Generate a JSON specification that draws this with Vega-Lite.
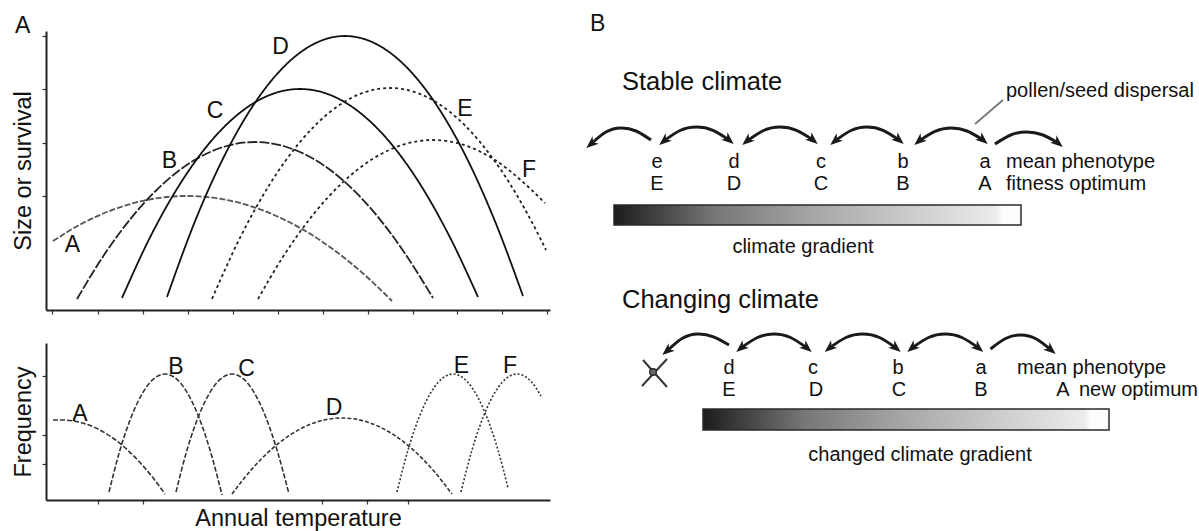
{
  "$schema": "https://vega.github.io/schema/vega-lite/v6.json",
  "background": "white",
  "padding": {"left": 11, "top": 13, "right": 0, "bottom": 0},
  "config": {
    "view": {"stroke": null},
    "font": "Liberation Sans",
    "axis": {"grid": false, "labels": false, "domainColor": "#222", "domainWidth": 2, "tickColor": "#333", "tickWidth": 1.2, "tickSize": 4, "titleFont": "Liberation Sans", "titleFontSize": 23.5, "titleFontWeight": "normal", "titleColor": "#111", "titlePadding": 6},
    "text": {"font": "Liberation Sans", "color": "#111"}
  },
  "resolve": {"scale": {"color": "independent", "strokeDash": "independent"}},
  "datasets": {
    "uc": [
      {"c":"A","t":7,"v":69},{"c":"A","t":37,"v":87},{"c":"A","t":67,"v":100.3},{"c":"A","t":97,"v":109.2},{"c":"A","t":127,"v":113.5},{"c":"A","t":141,"v":114},{"c":"A","t":167,"v":112.3},{"c":"A","t":197,"v":106.2},{"c":"A","t":227,"v":95.5},{"c":"A","t":257,"v":80.4},{"c":"A","t":287,"v":60.7},{"c":"A","t":317,"v":36.6},{"c":"A","t":346,"v":9},
      {"c":"B","t":31,"v":11},{"c":"B","t":59,"v":56.5},{"c":"B","t":89,"v":96.6},{"c":"B","t":119,"v":127.9},{"c":"B","t":149,"v":150.2},{"c":"B","t":179,"v":163.5},{"c":"B","t":209,"v":168},{"c":"B","t":239,"v":163.5},{"c":"B","t":269,"v":150.2},{"c":"B","t":299,"v":127.9},{"c":"B","t":329,"v":96.6},{"c":"B","t":359,"v":56.5},{"c":"B","t":387,"v":12},
      {"c":"C","t":76,"v":12},{"c":"C","t":104,"v":72.6},{"c":"C","t":134,"v":126},{"c":"C","t":164,"v":167.6},{"c":"C","t":194,"v":197.3},{"c":"C","t":224,"v":215.1},{"c":"C","t":254,"v":221},{"c":"C","t":284,"v":215.1},{"c":"C","t":314,"v":197.3},{"c":"C","t":344,"v":167.6},{"c":"C","t":374,"v":126},{"c":"C","t":404,"v":72.6},{"c":"C","t":432,"v":13},
      {"c":"D","t":121,"v":13},{"c":"D","t":149,"v":88.7},{"c":"D","t":179,"v":155.4},{"c":"D","t":209,"v":207.3},{"c":"D","t":239,"v":244.4},{"c":"D","t":269,"v":266.6},{"c":"D","t":299,"v":274},{"c":"D","t":329,"v":266.6},{"c":"D","t":359,"v":244.4},{"c":"D","t":389,"v":207.3},{"c":"D","t":419,"v":155.4},{"c":"D","t":449,"v":88.7},{"c":"D","t":477,"v":14},
      {"c":"E","t":166,"v":11},{"c":"E","t":194,"v":72.2},{"c":"E","t":224,"v":126.1},{"c":"E","t":254,"v":168},{"c":"E","t":284,"v":198},{"c":"E","t":314,"v":216},{"c":"E","t":344,"v":222},{"c":"E","t":374,"v":216},{"c":"E","t":404,"v":198},{"c":"E","t":434,"v":168},{"c":"E","t":464,"v":126.1},{"c":"E","t":494,"v":72.2},{"c":"E","t":500,"v":60},
      {"c":"F","t":212,"v":11},{"c":"F","t":237,"v":53.2},{"c":"F","t":267,"v":95.2},{"c":"F","t":297,"v":127.9},{"c":"F","t":327,"v":151.3},{"c":"F","t":357,"v":165.3},{"c":"F","t":387,"v":170},{"c":"F","t":417,"v":165.3},{"c":"F","t":447,"v":151.3},{"c":"F","t":477,"v":127.9},{"c":"F","t":499,"v":107}
    ],
    "lc": [
      {"c":"A","t":7,"v":80},{"c":"A","t":16,"v":80},{"c":"A","t":31,"v":78.4},{"c":"A","t":46,"v":73.7},{"c":"A","t":61,"v":65.9},{"c":"A","t":76,"v":54.9},{"c":"A","t":91,"v":40.7},{"c":"A","t":106,"v":23.5},{"c":"A","t":119,"v":6},
      {"c":"B","t":63,"v":8},{"c":"B","t":74,"v":50},{"c":"B","t":89,"v":92},{"c":"B","t":104,"v":117.5},{"c":"B","t":119,"v":126},{"c":"B","t":134,"v":117.5},{"c":"B","t":149,"v":92},{"c":"B","t":164,"v":50},{"c":"B","t":176,"v":5},
      {"c":"C","t":130,"v":8},{"c":"C","t":141,"v":50},{"c":"C","t":156,"v":92},{"c":"C","t":171,"v":117.5},{"c":"C","t":186,"v":126},{"c":"C","t":201,"v":117.5},{"c":"C","t":216,"v":92},{"c":"C","t":231,"v":50},{"c":"C","t":243,"v":6},
      {"c":"D","t":186,"v":6},{"c":"D","t":206,"v":31.1},{"c":"D","t":226,"v":51.2},{"c":"D","t":246,"v":66.3},{"c":"D","t":271,"v":78.1},{"c":"D","t":296,"v":82},{"c":"D","t":321,"v":78.1},{"c":"D","t":346,"v":66.3},{"c":"D","t":366,"v":51.2},{"c":"D","t":386,"v":31.1},{"c":"D","t":406,"v":6},
      {"c":"E","t":351,"v":8},{"c":"E","t":362,"v":50},{"c":"E","t":377,"v":92},{"c":"E","t":392,"v":117.5},{"c":"E","t":407,"v":126},{"c":"E","t":422,"v":117.5},{"c":"E","t":437,"v":92},{"c":"E","t":452,"v":50},{"c":"E","t":462,"v":12},
      {"c":"F","t":415,"v":8},{"c":"F","t":426,"v":50},{"c":"F","t":441,"v":92},{"c":"F","t":456,"v":117.5},{"c":"F","t":471,"v":126},{"c":"F","t":486,"v":117.5},{"c":"F","t":495,"v":104}
    ],
    "ul": [
      {"label":"A","t":26.5,"v":65.5},{"label":"B","t":123.5,"v":149},{"label":"C","t":169,"v":199},{"label":"D","t":234.5,"v":263},{"label":"E","t":419,"v":201.5},{"label":"F","t":483,"v":140}
    ],
    "ll": [
      {"label":"A","t":34,"v":86.5},{"label":"B","t":130,"v":133.5},{"label":"C","t":200.5,"v":131.5},{"label":"D","t":288,"v":92.5},{"label":"E","t":415.5,"v":134},{"label":"F","t":464,"v":134}
    ],
    "bars": [
      {"x":614,"x2":1021,"y":204,"y2":224},
      {"x":703,"x2":1109,"y":408,"y2":429}
    ],
    "arcs": [
      {"a":"S1","x":591,"y":143},{"a":"S1","x":606,"y":131},{"a":"S1","x":621,"y":127},{"a":"S1","x":636,"y":130},{"a":"S1","x":651,"y":139},
      {"a":"S2","x":664,"y":140},{"a":"S2","x":680,"y":129.5},{"a":"S2","x":696.5,"y":126},{"a":"S2","x":713,"y":129.3},{"a":"S2","x":729,"y":139},
      {"a":"S3","x":747,"y":140},{"a":"S3","x":763.5,"y":129.5},{"a":"S3","x":780,"y":126},{"a":"S3","x":796.5,"y":129.3},{"a":"S3","x":813,"y":139},
      {"a":"S4","x":835,"y":140},{"a":"S4","x":851,"y":129.5},{"a":"S4","x":867,"y":126},{"a":"S4","x":883,"y":129.3},{"a":"S4","x":899,"y":139},
      {"a":"S5","x":919,"y":140},{"a":"S5","x":935,"y":130.3},{"a":"S5","x":951,"y":127},{"a":"S5","x":967,"y":130},{"a":"S5","x":983,"y":139},
      {"a":"S6","x":995,"y":143},{"a":"S6","x":1010.75,"y":134},{"a":"S6","x":1026.5,"y":131},{"a":"S6","x":1042.25,"y":133.75},{"a":"S6","x":1058,"y":142},
      {"a":"C1","x":667,"y":350},{"a":"C1","x":682.5,"y":337.3},{"a":"C1","x":698,"y":333},{"a":"C1","x":713.5,"y":335.8},{"a":"C1","x":729,"y":344},
      {"a":"C2","x":741,"y":347},{"a":"C2","x":757.5,"y":336.5},{"a":"C2","x":774,"y":333},{"a":"C2","x":790.5,"y":336.5},{"a":"C2","x":807,"y":347},
      {"a":"C3","x":829.5,"y":347},{"a":"C3","x":846,"y":336.5},{"a":"C3","x":862.75,"y":333},{"a":"C3","x":879.4,"y":336.5},{"a":"C3","x":896,"y":347},
      {"a":"C4","x":912,"y":347},{"a":"C4","x":928.6,"y":336.5},{"a":"C4","x":945.25,"y":333},{"a":"C4","x":961.9,"y":336.5},{"a":"C4","x":978.5,"y":347},
      {"a":"C5","x":990.5,"y":348},{"a":"C5","x":1005.6,"y":337.5},{"a":"C5","x":1020.75,"y":334},{"a":"C5","x":1035.9,"y":337.75},{"a":"C5","x":1051,"y":349}
    ],
    "headsL": [
      {"x":591,"y":143},{"x":664,"y":140},{"x":747,"y":140},{"x":835,"y":140},{"x":919,"y":140},
      {"x":667,"y":350},{"x":741,"y":347},{"x":829.5,"y":347},{"x":912,"y":347}
    ],
    "headsR": [
      {"x":729,"y":139},{"x":813,"y":139},{"x":899,"y":139},{"x":983,"y":139},{"x":1058,"y":142},
      {"x":807,"y":347},{"x":896,"y":347},{"x":978.5,"y":347},{"x":1051,"y":349}
    ],
    "segs": [
      {"k":"leader","x":1003,"y":99,"x2":975,"y2":123},
      {"k":"cross","x":642,"y":385,"x2":667,"y2":358},
      {"k":"cross","x":643,"y":359,"x2":667,"y2":386}
    ],
    "dot": [{"x":653,"y":371}],
    "texts": [
      {"t":"B","x":590,"y":30,"role":"panel"},
      {"t":"Stable climate","x":622,"y":89,"role":"heading"},
      {"t":"Changing climate","x":622,"y":307,"role":"heading"},
      {"t":"pollen/seed dispersal","x":1006,"y":96,"role":"left"},
      {"t":"mean phenotype","x":1006,"y":167,"role":"left"},
      {"t":"fitness optimum","x":1006,"y":189,"role":"left"},
      {"t":"mean phenotype","x":1017,"y":373,"role":"left"},
      {"t":"new optimum","x":1079,"y":395,"role":"left"},
      {"t":"e","x":657,"y":167,"role":"center"},
      {"t":"d","x":734,"y":167,"role":"center"},
      {"t":"c","x":821,"y":167,"role":"center"},
      {"t":"b","x":903,"y":167,"role":"center"},
      {"t":"a","x":985,"y":167,"role":"center"},
      {"t":"E","x":657,"y":189,"role":"center"},
      {"t":"D","x":734,"y":189,"role":"center"},
      {"t":"C","x":821,"y":189,"role":"center"},
      {"t":"B","x":903,"y":189,"role":"center"},
      {"t":"A","x":985,"y":189,"role":"center"},
      {"t":"climate gradient","x":803,"y":252,"role":"center"},
      {"t":"d","x":729,"y":373,"role":"center"},
      {"t":"c","x":813,"y":373,"role":"center"},
      {"t":"b","x":898,"y":373,"role":"center"},
      {"t":"a","x":981,"y":373,"role":"center"},
      {"t":"E","x":729,"y":395,"role":"center"},
      {"t":"D","x":816,"y":395,"role":"center"},
      {"t":"C","x":899,"y":395,"role":"center"},
      {"t":"B","x":981,"y":395,"role":"center"},
      {"t":"A","x":1063,"y":395,"role":"center"},
      {"t":"changed climate gradient","x":920,"y":460,"role":"center"}
    ]
  },
  "columns": 2,
  "bounds": "flush",
  "align": "each",
  "spacing": {"row": 33, "column": 25},
  "concat": [
    {
      "width": 504,
      "height": 279,
      "encoding": {
        "x": {"field": "t", "type": "quantitative", "scale": {"domain": [0, 504]}, "axis": {"title": null, "values": [6, 52, 97, 142, 187, 232, 277, 322, 367, 411, 456, 501]}},
        "y": {"field": "v", "type": "quantitative", "scale": {"domain": [0, 279]}, "axis": {"title": "Size or survival", "values": [114, 167, 221, 274]}}
      },
      "layer": [
        {
          "data": {"name": "uc"},
          "mark": {"type": "line", "interpolate": "monotone", "strokeWidth": 1.8},
          "encoding": {
            "detail": {"field": "c"},
            "color": {"field": "c", "type": "nominal", "legend": null, "scale": {"domain": ["A","B","C","D","E","F"], "range": ["#555555","#222222","#111111","#111111","#222222","#222222"]}},
            "strokeDash": {"field": "c", "type": "nominal", "legend": null, "scale": {"domain": ["A","B","C","D","E","F"], "range": [[6,2],[10,2],[1,0],[1,0],[3,3],[3,3]]}}
          }
        },
        {
          "data": {"name": "ul"},
          "mark": {"type": "text", "fontSize": 23, "align": "center", "baseline": "middle"},
          "encoding": {"text": {"field": "label"}}
        },
        {
          "data": {"values": [{"label": "A", "t": -31, "v": 277}]},
          "mark": {"type": "text", "fontSize": 23, "align": "left", "baseline": "alphabetic"},
          "encoding": {"text": {"field": "label"}}
        }
      ]
    },
    {
      "width": 624,
      "height": 279,
      "encoding": {
        "x": {"field": "x", "type": "quantitative", "scale": {"domain": [575, 1199]}, "axis": null},
        "y": {"field": "y", "type": "quantitative", "scale": {"domain": [30, 309], "reverse": true}, "axis": null}
      },
      "layer": [
        {
          "data": {"name": "bars"},
          "mark": {"type": "rect", "stroke": "#2a2a2a", "strokeWidth": 1.5, "fill": {"gradient": "linear", "x1": 0, "y1": 0, "x2": 1, "y2": 0, "stops": [{"offset": 0, "color": "#1c1c1c"}, {"offset": 0.25, "color": "#777777"}, {"offset": 0.5, "color": "#a8a8a8"}, {"offset": 0.75, "color": "#cfcfcf"}, {"offset": 0.94, "color": "#ececec"}, {"offset": 0.955, "color": "#fdfdfd"}, {"offset": 1, "color": "#fdfdfd"}]}},
          "encoding": {"x2": {"field": "x2"}, "y2": {"field": "y2"}}
        },
        {
          "data": {"name": "arcs"},
          "mark": {"type": "line", "interpolate": "natural", "strokeWidth": 3, "color": "#1a1a1a"},
          "encoding": {"detail": {"field": "a"}, "order": {"field": "x", "type": "quantitative"}}
        },
        {
          "data": {"name": "headsL"},
          "mark": {"type": "point", "shape": "M1,0L-1,-0.8L-0.45,0L-1,0.8Z", "filled": true, "size": 150, "angle": 140, "color": "#1a1a1a", "opacity": 1}
        },
        {
          "data": {"name": "headsR"},
          "mark": {"type": "point", "shape": "M1,0L-1,-0.8L-0.45,0L-1,0.8Z", "filled": true, "size": 150, "angle": 40, "color": "#1a1a1a", "opacity": 1}
        },
        {
          "data": {"name": "segs"},
          "mark": {"type": "rule", "strokeWidth": 2},
          "encoding": {
            "x2": {"field": "x2"}, "y2": {"field": "y2"},
            "color": {"field": "k", "type": "nominal", "legend": null, "scale": {"domain": ["leader", "cross"], "range": ["#7a7a7a", "#333333"]}}
          }
        },
        {
          "data": {"name": "dot"},
          "mark": {"type": "point", "shape": "circle", "size": 45, "filled": true, "fill": "#666666", "stroke": "#222222", "strokeWidth": 1.2, "opacity": 1}
        },
        {
          "data": {"name": "texts"},
          "transform": [{"filter": "datum.role === 'panel'"}],
          "mark": {"type": "text", "fontSize": 23, "align": "left", "baseline": "alphabetic"},
          "encoding": {"text": {"field": "t"}}
        },
        {
          "data": {"name": "texts"},
          "transform": [{"filter": "datum.role === 'heading'"}],
          "mark": {"type": "text", "fontSize": 25.5, "align": "left", "baseline": "alphabetic"},
          "encoding": {"text": {"field": "t"}}
        },
        {
          "data": {"name": "texts"},
          "transform": [{"filter": "datum.role === 'left'"}],
          "mark": {"type": "text", "fontSize": 20, "align": "left", "baseline": "alphabetic"},
          "encoding": {"text": {"field": "t"}}
        },
        {
          "data": {"name": "texts"},
          "transform": [{"filter": "datum.role === 'center'"}],
          "mark": {"type": "text", "fontSize": 20, "align": "center", "baseline": "alphabetic"},
          "encoding": {"text": {"field": "t"}}
        }
      ]
    },
    {
      "width": 504,
      "height": 157,
      "encoding": {
        "x": {"field": "t", "type": "quantitative", "scale": {"domain": [0, 504]}, "axis": {"title": "Annual temperature", "titlePadding": 2, "values": [52, 97, 276, 321, 362]}},
        "y": {"field": "v", "type": "quantitative", "scale": {"domain": [0, 157]}, "axis": {"title": "Frequency", "values": [36, 65, 124]}}
      },
      "layer": [
        {
          "data": {"name": "lc"},
          "mark": {"type": "line", "interpolate": "monotone", "strokeWidth": 1.6},
          "encoding": {
            "detail": {"field": "c"},
            "color": {"value": "#333333"},
            "strokeDash": {"field": "c", "type": "nominal", "legend": null, "scale": {"domain": ["A","B","C","D","E","F"], "range": [[5,2],[5,2],[5,2],[4,2],[2,2],[2,2]]}}
          }
        },
        {
          "data": {"name": "ll"},
          "mark": {"type": "text", "fontSize": 23, "align": "center", "baseline": "middle"},
          "encoding": {"text": {"field": "label"}}
        }
      ]
    }
  ]
}
